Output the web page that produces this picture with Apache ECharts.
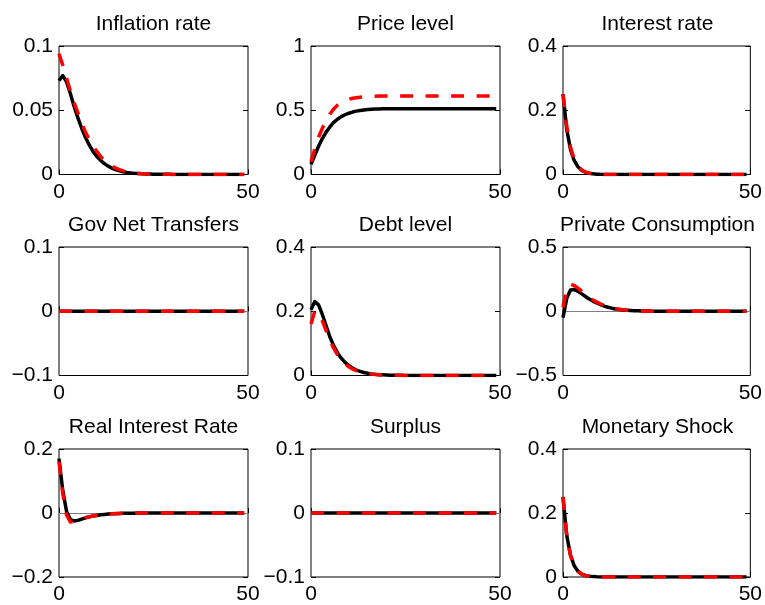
<!DOCTYPE html>
<html>
<head>
<meta charset="utf-8">
<script src="https://cdn.jsdelivr.net/npm/echarts@6/dist/echarts.min.js"></script>
<style>
html,body{margin:0;padding:0;background:#fff;}
#c{width:765px;height:605px;}
</style>
</head>
<body>
<div id="c"></div>
<script>
// ---------- data (x = 0..49) ----------
var periods = [0,1,2,3,4,5,6,7,8,9,10,11,12,13,14,15,16,17,18,19,20,21,22,23,24,25,26,27,28,29,30,31,32,33,34,35,36,37,38,39,40,41,42,43,44,45,46,47,48,49];

var titles = ['Inflation rate','Price level','Interest rate','Gov Net Transfers','Debt level','Private Consumption','Real Interest Rate','Surplus','Monetary Shock'];

var inflationBlack = [0.073,0.077,0.072,0.063,0.053,0.044,0.036,0.029,0.023,0.018,0.014,0.011,0.0085,0.0065,0.005,0.0038,0.0029,0.0022,0.0016,0.0012,0.0009,0.0007,0.0005,0.0004,0.0003,0.0002,0.0002,0.0001,0.0001,0.0001,0,0,0,0,0,0,0,0,0,0,0,0,0,0,0,0,0,0,0,0];
var inflationRed   = [0.094,0.085,0.075,0.065,0.056,0.048,0.040,0.033,0.027,0.022,0.018,0.014,0.011,0.0085,0.0065,0.005,0.0038,0.0028,0.002,0.0015,0.001,0.0008,0.0006,0.0004,0.0003,0.0002,0.0002,0.0001,0.0001,0.0001,0,0,0,0,0,0,0,0,0,0,0,0,0,0,0,0,0,0,0,0];

var priceBlack = [0.08,0.15,0.22,0.28,0.33,0.37,0.405,0.43,0.45,0.465,0.477,0.486,0.493,0.498,0.502,0.505,0.507,0.509,0.51,0.511,0.512,0.512,0.512,0.512,0.512,0.512,0.512,0.512,0.512,0.512,0.512,0.512,0.512,0.512,0.512,0.512,0.512,0.512,0.512,0.512,0.512,0.512,0.512,0.512,0.512,0.512,0.512,0.512,0.512,0.512];
var priceRed   = [0.1,0.2,0.29,0.36,0.42,0.47,0.51,0.54,0.56,0.575,0.585,0.593,0.598,0.602,0.605,0.607,0.608,0.609,0.61,0.61,0.61,0.61,0.61,0.61,0.61,0.61,0.61,0.61,0.61,0.61,0.61,0.61,0.61,0.61,0.61,0.61,0.61,0.61,0.61,0.61,0.61,0.61,0.61,0.61,0.61,0.61,0.61,0.61,0.61,0.61];

var rateBlack = [0.25,0.14,0.078,0.043,0.024,0.013,0.007,0.004,0.002,0.001,0.0005,0.0003,0.0001,0,0,0,0,0,0,0,0,0,0,0,0,0,0,0,0,0,0,0,0,0,0,0,0,0,0,0,0,0,0,0,0,0,0,0,0,0];
var rateRed   = [0.25,0.15,0.085,0.047,0.026,0.014,0.0075,0.004,0.002,0.001,0.0005,0.0003,0.0001,0,0,0,0,0,0,0,0,0,0,0,0,0,0,0,0,0,0,0,0,0,0,0,0,0,0,0,0,0,0,0,0,0,0,0,0,0];

var transfersBlack = [0,0,0,0,0,0,0,0,0,0,0,0,0,0,0,0,0,0,0,0,0,0,0,0,0,0,0,0,0,0,0,0,0,0,0,0,0,0,0,0,0,0,0,0,0,0,0,0,0,0];
var transfersRed   = [0,0,0,0,0,0,0,0,0,0,0,0,0,0,0,0,0,0,0,0,0,0,0,0,0,0,0,0,0,0,0,0,0,0,0,0,0,0,0,0,0,0,0,0,0,0,0,0,0,0];

var debtBlack = [0.205,0.23,0.22,0.19,0.155,0.12,0.093,0.071,0.054,0.041,0.031,0.023,0.017,0.013,0.0095,0.007,0.005,0.0037,0.0027,0.002,0.0014,0.001,0.0007,0.0005,0.0004,0.0003,0.0002,0.0001,0.0001,0,0,0,0,0,0,0,0,0,0,0,0,0,0,0,0,0,0,0,0,0];
var debtRed   = [0.16,0.2,0.195,0.17,0.14,0.11,0.085,0.065,0.049,0.037,0.027,0.02,0.015,0.011,0.008,0.006,0.0043,0.0031,0.0022,0.0016,0.0011,0.0008,0.0006,0.0004,0.0003,0.0002,0.0001,0.0001,0,0,0,0,0,0,0,0,0,0,0,0,0,0,0,0,0,0,0,0,0,0];

var consumptionBlack = [-0.05,0.1,0.165,0.17,0.155,0.135,0.115,0.096,0.079,0.064,0.051,0.04,0.031,0.024,0.018,0.014,0.01,0.0075,0.0055,0.004,0.003,0.002,0.0015,0.001,0.0007,0.0005,0.0003,0.0002,0.0001,0.0001,0,0,0,0,0,0,0,0,0,0,0,0,0,0,0,0,0,0,0,0];
var consumptionRed   = [0.03,0.17,0.21,0.2,0.18,0.155,0.13,0.108,0.088,0.071,0.057,0.045,0.035,0.027,0.02,0.015,0.011,0.008,0.006,0.0045,0.0033,0.0024,0.0017,0.0012,0.0008,0.0005,0.0003,0.0002,0.0001,0.0001,0,0,0,0,0,0,0,0,0,0,0,0,0,0,0,0,0,0,0,0];

var realRateBlack = [0.17,0.07,0.005,-0.02,-0.025,-0.023,-0.019,-0.015,-0.012,-0.0095,-0.0075,-0.0058,-0.0045,-0.0034,-0.0026,-0.002,-0.0015,-0.0011,-0.0008,-0.0006,-0.0004,-0.0003,-0.0002,-0.0001,0,0,0,0,0,0,0,0,0,0,0,0,0,0,0,0,0,0,0,0,0,0,0,0,0,0];
var realRateRed   = [0.16,0.06,-0.006,-0.028,-0.027,-0.023,-0.019,-0.015,-0.012,-0.0093,-0.0072,-0.0056,-0.0043,-0.0033,-0.0025,-0.0019,-0.0014,-0.001,-0.0007,-0.0005,-0.0003,-0.0002,-0.0001,-0.0001,0,0,0,0,0,0,0,0,0,0,0,0,0,0,0,0,0,0,0,0,0,0,0,0,0,0];

var surplusBlack = [0,0,0,0,0,0,0,0,0,0,0,0,0,0,0,0,0,0,0,0,0,0,0,0,0,0,0,0,0,0,0,0,0,0,0,0,0,0,0,0,0,0,0,0,0,0,0,0,0,0];
var surplusRed   = [0,0,0,0,0,0,0,0,0,0,0,0,0,0,0,0,0,0,0,0,0,0,0,0,0,0,0,0,0,0,0,0,0,0,0,0,0,0,0,0,0,0,0,0,0,0,0,0,0,0];

var shockBlack = [0.25,0.13,0.068,0.035,0.018,0.009,0.0047,0.0024,0.0012,0.0006,0.0003,0.0002,0.0001,0,0,0,0,0,0,0,0,0,0,0,0,0,0,0,0,0,0,0,0,0,0,0,0,0,0,0,0,0,0,0,0,0,0,0,0,0];
var shockRed   = [0.25,0.13,0.068,0.035,0.018,0.009,0.0047,0.0024,0.0012,0.0006,0.0003,0.0002,0.0001,0,0,0,0,0,0,0,0,0,0,0,0,0,0,0,0,0,0,0,0,0,0,0,0,0,0,0,0,0,0,0,0,0,0,0,0,0];

var blackSeries = [inflationBlack, priceBlack, rateBlack, transfersBlack, debtBlack, consumptionBlack, realRateBlack, surplusBlack, shockBlack];
var redSeries   = [inflationRed, priceRed, rateRed, transfersRed, debtRed, consumptionRed, realRateRed, surplusRed, shockRed];

var yMin  = [0, 0, 0, -0.1, 0, -0.5, -0.2, -0.1, 0];
var yMax  = [0.1, 1, 0.4, 0.1, 0.4, 0.5, 0.2, 0.1, 0.4];
var yStep = [0.05, 0.5, 0.2, 0.1, 0.2, 0.5, 0.2, 0.1, 0.2];
var yTickLabels = [
  ['0','0.05','0.1'],
  ['0','0.5','1'],
  ['0','0.2','0.4'],
  ['\u22120.1','0','0.1'],
  ['0','0.2','0.4'],
  ['\u22120.5','0','0.5'],
  ['\u22120.2','0','0.2'],
  ['\u22120.1','0','0.1'],
  ['0','0.2','0.4']
];
var xTickLabels = ['0','50'];

// ---------- layout ----------
var FONT = "'Liberation Sans', Arial, Helvetica, sans-serif";
var colLeft = [59, 311, 563];
var rowTop = [46, 247, 449];
var W = 189, H = 128.5;

var grids = [], xAxes = [], yAxes = [], series = [], titleList = [];
for (var i = 0; i < 9; i++) {
  var r = Math.floor(i / 3), c = i % 3;
  grids.push({left: colLeft[c], top: rowTop[r], width: W, height: H,
    show: true, borderColor: '#000', borderWidth: 1, backgroundColor: '#fff', containLabel: false});
  titleList.push({text: titles[i], left: colLeft[c] + W / 2, top: rowTop[r] - 32, textAlign: 'center', padding: 0,
    textStyle: {fontFamily: FONT, fontSize: 21, fontWeight: 'normal', color: '#000'}});
  (function(idx){
    xAxes.push({gridIndex: idx, type: 'value', min: 0, max: 50, interval: 50,
      axisLine: {show: false}, splitLine: {show: false},
      axisTick: {show: true, inside: true, length: 5, lineStyle: {color: '#000'}},
      axisLabel: {fontFamily: FONT, fontSize: 21, color: '#000', margin: 7,
        formatter: function(v, k){ return xTickLabels[k]; }}});
    yAxes.push({gridIndex: idx, type: 'value', min: yMin[idx], max: yMax[idx], interval: yStep[idx],
      axisLine: {show: false}, splitLine: {show: false},
      axisTick: {show: true, inside: true, length: 5, lineStyle: {color: '#000'}},
      axisLabel: {fontFamily: FONT, fontSize: 21, color: '#000', margin: 6,
        formatter: function(v, k){ return yTickLabels[idx][k]; }}});
    yAxes.push({gridIndex: idx, type: 'value', position: 'right', min: yMin[idx], max: yMax[idx], interval: yStep[idx],
      axisLine: {show: false}, splitLine: {show: false}, axisLabel: {show: false},
      axisTick: {show: true, inside: true, length: 5, lineStyle: {color: '#000'}}});
  })(i);
  var pts = function(arr){ return periods.map(function(p, k){ return [p, arr[k]]; }); };
  var blk = {type: 'line', xAxisIndex: i, yAxisIndex: 2 * i, data: pts(blackSeries[i]),
    showSymbol: false, symbol: 'none', smooth: false, z: 3, silent: true,
    lineStyle: {color: '#000', width: 3.5, type: 'solid', cap: 'butt', join: 'round'}};
  if (yMin[i] < 0) {
    blk.markLine = {silent: true, symbol: 'none', z: 1, label: {show: false},
      lineStyle: {color: '#808080', width: 1, type: 'solid'}, data: [{yAxis: 0}]};
  }
  series.push(blk);
  series.push({type: 'line', xAxisIndex: i, yAxisIndex: 2 * i, data: pts(redSeries[i]),
    showSymbol: false, symbol: 'none', smooth: false, z: 4, silent: true,
    lineStyle: {color: '#ff0000', width: 3.5, type: [13, 12.5], cap: 'butt', join: 'round'}});
}

var chart = echarts.init(document.getElementById('c'), null, {renderer: 'canvas'});
chart.setOption({
  animation: false,
  backgroundColor: '#fff',
  title: titleList,
  grid: grids,
  xAxis: xAxes,
  yAxis: yAxes,
  series: series
});
</script>
</body>
</html>
